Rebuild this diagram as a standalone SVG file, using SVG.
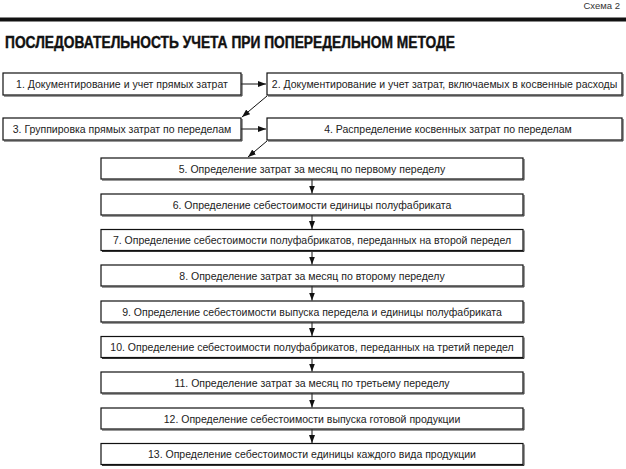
<svg xmlns="http://www.w3.org/2000/svg" width="626" height="469" viewBox="0 0 626 469">
<defs>
<marker id="ah" viewBox="0 0 8 6" refX="8" refY="3" markerWidth="8" markerHeight="6" markerUnits="userSpaceOnUse" orient="auto">
<path d="M0,0 L8,3 L0,6 Z" fill="#111"/>
</marker>
</defs>
<style>
.bx{fill:#fff;stroke:#111;stroke-width:1.2}
.sh{fill:none;stroke:#333;stroke-width:1}
.t{font-family:"Liberation Sans Narrow","Liberation Sans",Arial,sans-serif;font-size:10.5px;fill:#222;text-anchor:middle}
.c{stroke:#111;stroke-width:1;fill:none;marker-end:url(#ah)}
</style>
<rect width="626" height="469" fill="#fff"/>
<text x="620" y="9" font-family="Liberation Sans Narrow,Liberation Sans,sans-serif" font-size="9.5" fill="#333" text-anchor="end">Схема 2</text>
<rect x="0" y="17.5" width="626" height="4" fill="#111"/>
<text x="5" y="47.5" font-family="Liberation Sans Narrow,Liberation Sans,sans-serif" font-weight="bold" font-size="16" fill="#111" stroke="#111" stroke-width="0.4" textLength="450" lengthAdjust="spacingAndGlyphs">ПОСЛЕДОВАТЕЛЬНОСТЬ УЧЕТА ПРИ ПОПЕРЕДЕЛЬНОМ МЕТОДЕ</text>

<g id="connectors">
<line class="c" x1="241" y1="84" x2="266" y2="84"/>
<line class="c" x1="267" y1="96" x2="242" y2="117"/>
<line class="c" x1="241" y1="129" x2="266" y2="129"/>
<line class="c" x1="267" y1="141" x2="248" y2="157"/>
<line class="c" x1="312" y1="179" x2="312" y2="193.5"/>
<line class="c" x1="312" y1="215" x2="312" y2="229"/>
<line class="c" x1="312" y1="250.5" x2="312" y2="264.5"/>
<line class="c" x1="312" y1="286" x2="312" y2="300.5"/>
<line class="c" x1="312" y1="322" x2="312" y2="336"/>
<line class="c" x1="312" y1="357.5" x2="312" y2="371.5"/>
<line class="c" x1="312" y1="393" x2="312" y2="407.5"/>
<line class="c" x1="312" y1="429" x2="312" y2="443"/>
</g>

<g id="n1"><rect class="bx" x="3" y="73" width="238" height="22"/><path class="sh" d="M4,96 H242 V74"/><text class="t" x="122" y="88">1. Документирование и учет прямых затрат</text></g>
<g id="n2"><rect class="bx" x="267" y="73" width="355" height="22"/><path class="sh" d="M268,96 H623 V74"/><text class="t" x="444.5" y="88">2. Документирование и учет затрат, включаемых в косвенные расходы</text></g>
<g id="n3"><rect class="bx" x="3" y="118" width="238" height="22"/><path class="sh" d="M4,141 H242 V119"/><text class="t" x="122" y="133">3. Группировка прямых затрат по переделам</text></g>
<g id="n4"><rect class="bx" x="267" y="118" width="355" height="22"/><path class="sh" d="M268,141 H623 V119"/><text class="t" x="448" y="133">4. Распределение косвенных затрат по переделам</text></g>

<g id="n5"><rect class="bx" x="101" y="158" width="422" height="21"/><path class="sh" d="M102,180 H524 V159"/><text class="t" x="312" y="172.5">5. Определение затрат за месяц по первому переделу</text></g>
<g id="n6"><rect class="bx" x="101" y="194" width="422" height="21"/><path class="sh" d="M102,216 H524 V195"/><text class="t" x="312" y="208.5">6. Определение себестоимости единицы полуфабриката</text></g>
<g id="n7"><rect class="bx" x="101" y="229.5" width="422" height="21"/><path class="sh" d="M102,251.5 H524 V230.5"/><text class="t" x="312" y="244">7. Определение себестоимости полуфабрикатов, переданных на второй передел</text></g>
<g id="n8"><rect class="bx" x="101" y="265" width="422" height="21"/><path class="sh" d="M102,287 H524 V266"/><text class="t" x="312" y="279.5">8. Определение затрат за месяц по второму переделу</text></g>
<g id="n9"><rect class="bx" x="101" y="301" width="422" height="21"/><path class="sh" d="M102,323 H524 V302"/><text class="t" x="312" y="315.5">9. Определение себестоимости выпуска передела и единицы полуфабриката</text></g>
<g id="n10"><rect class="bx" x="101" y="336.5" width="422" height="21"/><path class="sh" d="M102,358.5 H524 V337.5"/><text class="t" x="312" y="351">10. Определение себестоимости полуфабрикатов, переданных на третий передел</text></g>
<g id="n11"><rect class="bx" x="101" y="372" width="422" height="21"/><path class="sh" d="M102,394 H524 V373"/><text class="t" x="312" y="386.5">11. Определение затрат за месяц по третьему переделу</text></g>
<g id="n12"><rect class="bx" x="101" y="408" width="422" height="21"/><path class="sh" d="M102,430 H524 V409"/><text class="t" x="312" y="422.5">12. Определение себестоимости выпуска готовой продукции</text></g>
<g id="n13"><rect class="bx" x="101" y="443.5" width="422" height="21"/><path class="sh" d="M102,465.5 H524 V444.5"/><text class="t" x="312" y="458">13. Определение себестоимости единицы каждого вида продукции</text></g>
</svg>
